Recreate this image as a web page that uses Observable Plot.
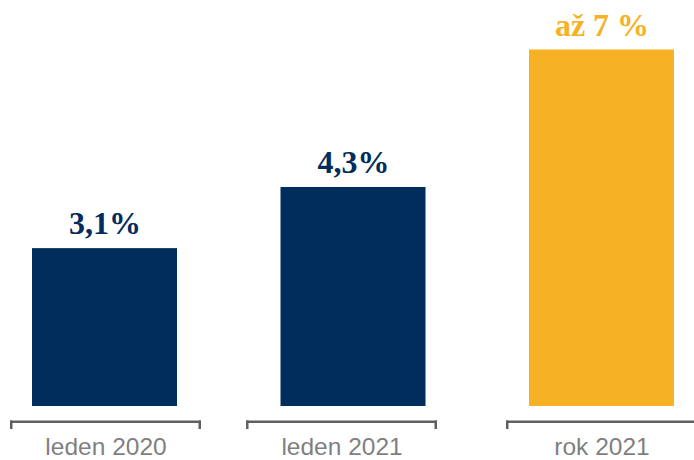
<!DOCTYPE html>
<html>
<head>
<meta charset="utf-8">
<script src="https://cdn.jsdelivr.net/npm/d3@7"></script>
<script src="https://cdn.jsdelivr.net/npm/@observablehq/plot@0.6"></script>
<style>
  html, body { margin: 0; padding: 0; background: #fff; }
  #chart svg { display: block; overflow: visible; }
</style>
</head>
<body>
<div id="chart"></div>
<script>
const categories = ["leden 2020", "leden 2021", "rok 2021"];
const values = [3.1, 4.3, 7];
const valueLabels = ["3,1%", "4,3%", "až 7 %"];
const highlighted = [false, false, true];

const table = categories.map((c, i) => ({cat: c, value: values[i], label: valueLabels[i], hi: highlighted[i]}));

const NAVY = "#002D5B";
const GOLD = "#F6B124";
const AXIS = "#606060";
const LABEL = "#7F7F7F";
const BW = 145; // band width in px (from scale setup below)
const axisShift = {"leden 2020": 1, "leden 2021": -11.5, "rok 2021": 0};

function bracket(c) {
  const rows = table.filter(d => d.cat === c);
  const dx = axisShift[c];
  return [
    Plot.barY(rows, {x: "cat", y1: 0, y2: 0, dx, fill: AXIS,
      insetLeft: -23, insetRight: -23, insetTop: 14.5, insetBottom: -17}),
    Plot.barY(rows, {x: "cat", y1: 0, y2: 0, dx, fill: AXIS,
      insetLeft: -23, insetRight: BW + 23 - 2.5, insetTop: 14.5, insetBottom: -23}),
    Plot.barY(rows, {x: "cat", y1: 0, y2: 0, dx, fill: AXIS,
      insetLeft: BW + 23 - 2.5, insetRight: -23, insetTop: 14.5, insetBottom: -23}),
    Plot.text(rows, {x: "cat", y: 0, text: "cat", dx, dy: 48.5, lineAnchor: "bottom",
      textAnchor: "middle", fill: LABEL, fontSize: 24.5,
      fontFamily: "'Liberation Sans', Arial, sans-serif"})
  ];
}

const chart = Plot.plot({
  width: 694,
  height: 460,
  marginTop: 0, marginBottom: 0, marginLeft: 0, marginRight: 0,
  x: {domain: categories, range: [7.15, 698.85], paddingInner: 0.4165, paddingOuter: 0.1, round: false, axis: null},
  y: {domain: [0, 7], range: [406, 49.5], axis: null},
  marks: [
    Plot.barY(table, {x: "cat", y: "value", fill: d => d.hi ? GOLD : NAVY}),
    Plot.text(table, {x: "cat", y: "value", text: "label", dy: -14.5, lineAnchor: "bottom",
      textAnchor: "middle", fill: d => d.hi ? GOLD : NAVY, fontSize: 32, fontWeight: "bold",
      fontFamily: "'Liberation Serif', 'DejaVu Serif', serif"}),
    ...categories.flatMap(bracket)
  ]
});
document.getElementById("chart").appendChild(chart);
</script>
</body>
</html>
